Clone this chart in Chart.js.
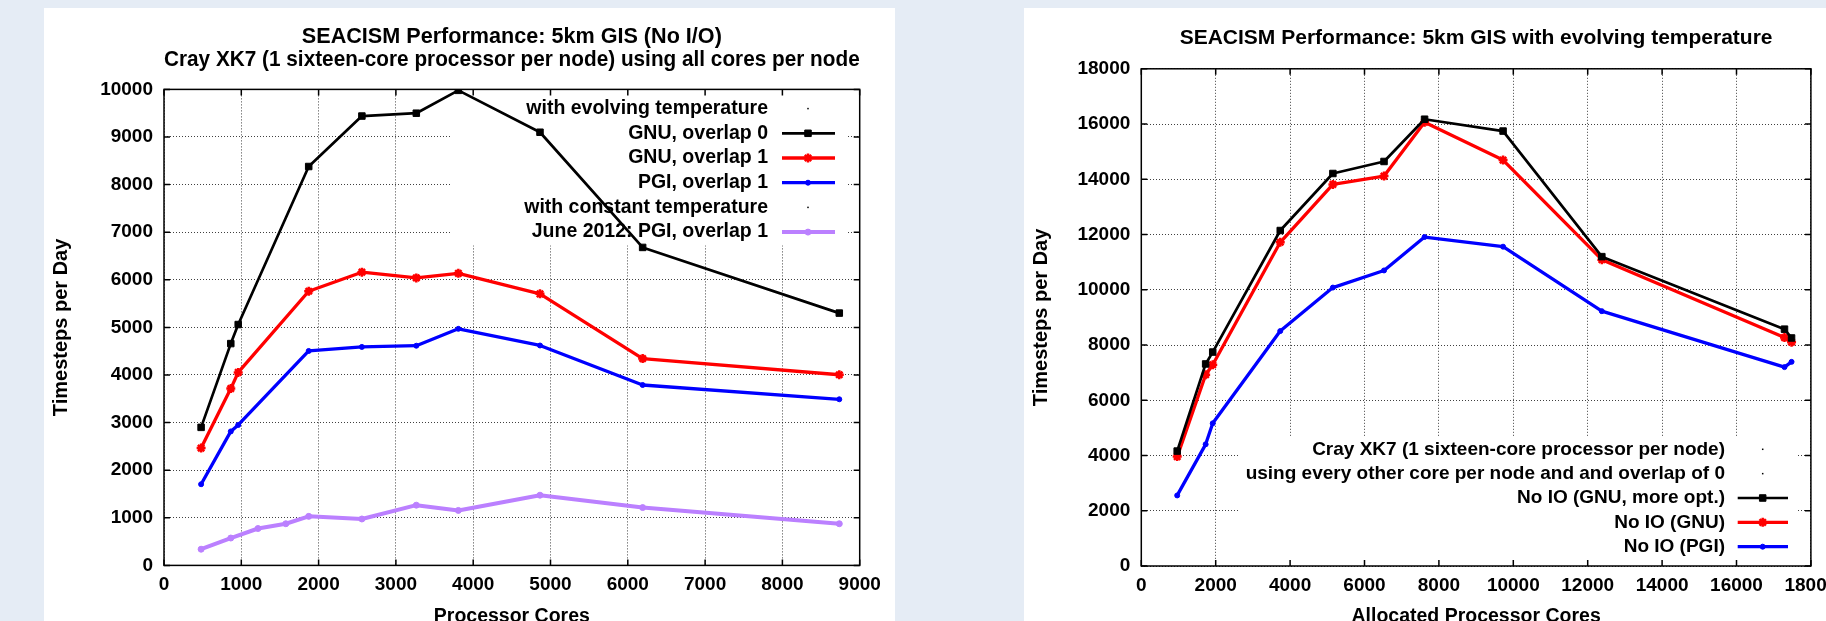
<!DOCTYPE html>
<html>
<head>
<meta charset="utf-8">
<script src="https://cdn.jsdelivr.net/npm/chart.js@4/dist/chart.umd.min.js"></script>
<style>
	html, body { margin: 0; padding: 0; }
	body { width: 1826px; height: 621px; overflow: hidden; background: #e5ecf5; position: relative; }
	.panel { position: absolute; background: #fff; }
	#panel_left { left: 44px; top: 8px; width: 851px; height: 640px; }
	#panel_right { left: 1024px; top: 8px; width: 840px; height: 640px; }
	canvas { display: block; }
</style>
</head>
<body>
<div class="panel" id="panel_left"><canvas id="chart_left" width="851" height="640"></canvas></div>
<div class="panel" id="panel_right"><canvas id="chart_right" width="840" height="640"></canvas></div>
<script>
// --- left chart: 5km GIS (No I/O), all cores per node
const leftCores = [480, 864, 960, 1872, 2560, 3264, 3808, 4864, 6192, 8736];
const leftGnuOverlap0 = [2900, 4660, 5060, 8380, 9440, 9500, 9980, 9100, 6680, 5300];
const leftGnuOverlap1 = [2465, 3715, 4055, 5760, 6160, 6040, 6135, 5705, 4345, 4005];
const leftPgiOverlap1 = [1705, 2815, 2950, 4505, 4590, 4615, 4970, 4620, 3790, 3490];
const juneCores = [480, 864, 1216, 1576, 1872, 2560, 3264, 3808, 4864, 6192, 8736];
const junePgiOverlap1 = [340, 575, 775, 875, 1030, 975, 1265, 1155, 1475, 1215, 875];
const leftXTicks = [0, 1000, 2000, 3000, 4000, 5000, 6000, 7000, 8000, 9000];
const leftYTicks = [0, 1000, 2000, 3000, 4000, 5000, 6000, 7000, 8000, 9000, 10000];

// --- right chart: 5km GIS with evolving temperature, every other core
const rightCores = [965, 1730, 1920, 3735, 5150, 6525, 7615, 9725, 12380, 17290, 17480];
const rightGnuMoreOpt = [4160, 7315, 7745, 12145, 14210, 14645, 16175, 15745, 11200, 8575, 8255];
const rightGnu = [3960, 6925, 7285, 11720, 13815, 14115, 16065, 14695, 11090, 8270, 8100];
const rightPgi = [2555, 4405, 5165, 8505, 10080, 10700, 11910, 11560, 9225, 7200, 7390];
const rightXTicks = [0, 2000, 4000, 6000, 8000, 10000, 12000, 14000, 16000, 18000];
const rightYTicks = [0, 2000, 4000, 6000, 8000, 10000, 12000, 14000, 16000, 18000];

const FONT = '"Liberation Sans", Arial, Helvetica, sans-serif';
const GRID = 'rgba(0,0,0,0.75)';
Chart.defaults.font.family = FONT;
Chart.defaults.font.weight = 'bold';
Chart.defaults.color = '#000';

function series(xs, ys) {
	return ys.map((v, i) => ({ x: xs[i], y: v }));
}

function lineSet(label, xs, ys, color, width, style, radius, pointBorder) {
	return {
		label: label,
		data: series(xs, ys),
		borderColor: color,
		backgroundColor: color,
		borderWidth: width,
		borderJoinStyle: 'round',
		pointStyle: style,
		pointRadius: radius,
		pointBackgroundColor: color,
		pointBorderColor: color,
		pointBorderWidth: pointBorder,
		tension: 0,
	};
}

// gnuplot style key: text right aligned, then line sample with marker
function gnuplotKey(cfg) {
	return {
		id: 'gnuplotKey',
		beforeDatasetsDraw(chart) {
			const { ctx, chartArea: ca } = chart;
			const boxTop = cfg.anchor === 'top' ? ca.top : ca.bottom - cfg.boxDepth;
			const first = cfg.anchor === 'top'
				? ca.top + cfg.rowStart
				: ca.bottom - cfg.rowStart - (cfg.rows.length - 1) * cfg.rowGap;
			ctx.save();
			ctx.fillStyle = '#fff';
			ctx.fillRect(ca.right + cfg.boxLeft, boxTop, cfg.boxRight - cfg.boxLeft, cfg.boxDepth);
			ctx.font = `bold ${cfg.fontSize}px ${FONT}`;
			ctx.textAlign = 'right';
			ctx.textBaseline = 'middle';
			cfg.rows.forEach((row, i) => {
				const y = first + i * cfg.rowGap;
				const mx = ca.right + cfg.marker;
				const ds = typeof row === 'number' ? chart.data.datasets[row] : null;
				ctx.fillStyle = '#000';
				ctx.fillText(ds ? ds.label : row, ca.right + cfg.textRight, y);
				if (!ds) {
					ctx.fillRect(mx - 0.75, y - 0.75, 1.5, 1.5);
					return;
				}
				ctx.strokeStyle = ds.borderColor;
				ctx.lineWidth = ds.borderWidth;
				ctx.beginPath();
				ctx.moveTo(ca.right + cfg.lineFrom, y);
				ctx.lineTo(ca.right + cfg.lineTo, y);
				ctx.stroke();
				ctx.fillStyle = ds.pointBackgroundColor;
				ctx.strokeStyle = ds.pointBorderColor;
				ctx.lineWidth = ds.pointBorderWidth;
				Chart.helpers.drawPoint(ctx, {
					pointStyle: ds.pointStyle, radius: ds.pointRadius, rotation: 0, borderWidth: ds.pointBorderWidth
				}, mx, y);
			});
			ctx.restore();
		}
	};
}

// plot border on all four sides with inward ticks
const gnuplotFrame = {
	id: 'gnuplotFrame',
	afterDatasetsDraw(chart) {
		const { ctx, chartArea: ca, scales: { x, y } } = chart;
		ctx.save();
		ctx.strokeStyle = '#000';
		ctx.lineWidth = 1.5;
		ctx.strokeRect(ca.left, ca.top, ca.right - ca.left, ca.bottom - ca.top);
		ctx.beginPath();
		x.ticks.forEach(t => {
			const px = x.getPixelForValue(t.value);
			ctx.moveTo(px, ca.bottom); ctx.lineTo(px, ca.bottom - 6);
			ctx.moveTo(px, ca.top); ctx.lineTo(px, ca.top + 6);
		});
		y.ticks.forEach(t => {
			const py = y.getPixelForValue(t.value);
			ctx.moveTo(ca.left, py); ctx.lineTo(ca.left + 6, py);
			ctx.moveTo(ca.right, py); ctx.lineTo(ca.right - 6, py);
		});
		ctx.stroke();
		ctx.restore();
	}
};

// plain integers, no thousands separator
const plainNumber = v => String(v);

function makeChart(id, c) {
	return new Chart(document.getElementById(id), {
		type: 'line',
		data: { datasets: c.datasets },
		plugins: [gnuplotKey(c.key), gnuplotFrame],
		options: {
			responsive: false,
			animation: false,
			events: [],
			layout: { padding: { left: 0, top: 0, right: c.padRight, bottom: 0 } },
			plugins: {
				legend: { display: false },
				tooltip: { enabled: false },
				title: {
					display: true, fullSize: false, text: c.title, color: '#000',
					font: { size: c.titleSize, weight: 'bold', lineHeight: c.titleLine },
					padding: c.titlePad
				}
			},
			scales: {
				x: {
					type: 'linear', min: c.xTicks[0], max: c.xTicks[c.xTicks.length - 1],
					afterBuildTicks: s => { s.ticks = c.xTicks.map(v => ({ value: v })); },
					afterFit: s => { s.height = c.xHeight; },
					grid: { color: GRID, lineWidth: 1, drawTicks: false },
					border: { display: false, dash: [1, 2] },
					ticks: {
						padding: 8, color: '#000', font: { size: 19, weight: 'bold' },
						maxRotation: 0, autoSkip: false, callback: plainNumber
					},
					title: {
						display: true, text: c.xTitle, color: '#000',
						font: { size: 19.5, weight: 'bold', lineHeight: 1.2 },
						padding: { top: 0, bottom: 20 }
					}
				},
				y: {
					type: 'linear', min: c.yTicks[0], max: c.yTicks[c.yTicks.length - 1],
					afterBuildTicks: s => { s.ticks = c.yTicks.map(v => ({ value: v })); },
					afterFit: s => { s.width = c.yWidth; },
					grid: { color: GRID, lineWidth: 1, drawTicks: false },
					border: { display: false, dash: [1, 2] },
					ticks: { padding: 11, color: '#000', font: { size: 19, weight: 'bold' }, callback: plainNumber },
					title: {
						display: true, text: 'Timesteps per Day', color: '#000',
						font: { size: 20, weight: 'bold', lineHeight: 1.2 },
						padding: { top: 5, bottom: 0 }
					}
				}
			}
		}
	});
}

makeChart('chart_left', {
	title: ['SEACISM Performance: 5km GIS (No I/O)', 'Cray XK7 (1 sixteen-core processor per node) using all cores per node'],
	titleSize: 21.6, titleLine: 1.074, titlePad: { top: 17.7, bottom: 17.3 },
	xTitle: 'Processor Cores', xTicks: leftXTicks, yTicks: leftYTicks,
	padRight: 35.3, yWidth: 120, xHeight: 82.6,
	datasets: [
		lineSet('GNU, overlap 0', leftCores, leftGnuOverlap0, '#000000', 2.7, 'rect', 4.6, 1),
		lineSet('GNU, overlap 1', leftCores, leftGnuOverlap1, '#ff0000', 3.3, 'star', 4.5, 2.5),
		lineSet('PGI, overlap 1', leftCores, leftPgiOverlap1, '#0000ff', 3.3, 'circle', 2.5, 1),
		lineSet('June 2012: PGI, overlap 1', juneCores, junePgiOverlap1, '#bb80ff', 4, 'circle', 3, 1),
	],
	key: {
		rows: ['with evolving temperature', 0, 1, 2, 'with constant temperature', 3],
		fontSize: 19.5, anchor: 'top', rowStart: 19.2, rowGap: 24.7,
		textRight: -91.7, lineFrom: -77.7, lineTo: -24.7, marker: -51.7,
		boxLeft: -409.7, boxRight: -12.7, boxDepth: 156
	}
});

makeChart('chart_right', {
	title: 'SEACISM Performance: 5km GIS with evolving temperature',
	titleSize: 21, titleLine: 1.1, titlePad: { top: 18.25, bottom: 19.45 },
	xTitle: 'Allocated Processor Cores', xTicks: rightXTicks, yTicks: rightYTicks,
	padRight: 53.1, yWidth: 117.3, xHeight: 82,
	datasets: [
		lineSet('No IO (GNU, more opt.)', rightCores, rightGnuMoreOpt, '#000000', 2.7, 'rect', 4.6, 1),
		lineSet('No IO (GNU)', rightCores, rightGnu, '#ff0000', 3.3, 'star', 4.5, 2.5),
		lineSet('No IO (PGI)', rightCores, rightPgi, '#0000ff', 3.3, 'circle', 2.5, 1),
	],
	key: {
		rows: ['Cray XK7 (1 sixteen-core processor per node)', 'using every other core per node and and overlap of 0', 0, 1, 2],
		fontSize: 19, anchor: 'bottom', rowStart: 19.3, rowGap: 24.35,
		textRight: -85.9, lineFrom: -73.2, lineTo: -22.9, marker: -48.2,
		boxLeft: -570.9, boxRight: -12.9, boxDepth: 130
	}
});
</script>
</body>
</html>
